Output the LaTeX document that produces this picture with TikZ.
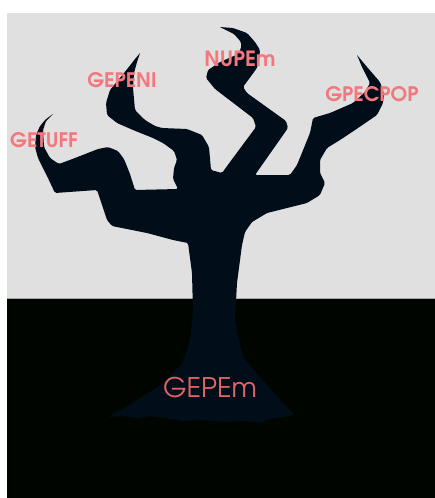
\documentclass[tikz,border=0pt]{standalone}
\usepackage{fontspec}
\newfontfamily\advfont{texgyreadventor}[Extension=.otf, UprightFont=*-regular, BoldFont=*-bold]
\definecolor{sky}{HTML}{E0E0E0}
\definecolor{ground}{HTML}{000500}
\definecolor{bark}{HTML}{010E1A}
\definecolor{labelpink}{HTML}{F2787D}
\definecolor{rootpink}{HTML}{E26565}
\tikzset{
  branchlabel/.style={text=labelpink, font=\advfont\bfseries\fontsize{20}{20}\selectfont, inner sep=0pt, anchor=center},
  rootlabel/.style={text=rootpink, font=\advfont\fontsize{27}{27}\selectfont, inner sep=0pt, anchor=center}
}
\begin{document}
\begin{tikzpicture}[x=1pt, y=-1pt]
  % page and backdrop
  \fill[white] (0,0) rectangle (435,498);
  \useasboundingbox (0,0) rectangle (435,498);
  \fill[sky] (7,13) rectangle (435,298);
  \fill[ground] (7,298) rectangle (435,498);
  \draw[gray!70, line width=0.6pt] (7,298.3) -- (435,298.3);

  % tree silhouette
  \fill[bark, rounded corners=1.5pt]
    (53,114) -- (46,121) -- (43,130) -- (44,147) -- (50,158) -- (59,164)
    -- (75,158) -- (98,149) -- (108,147) -- (118,151) -- (124,159)
    -- (130,174) -- (135,190) -- (178,189)
    -- (173,179) -- (174,168) -- (177,160) -- (174,151)
    -- (163,143) -- (153,138) -- (133,130) -- (117,123) -- (107,115)
    -- (106,103) -- (110,90) -- (119,79) -- (128,68) -- (135,59)
    [sharp corners] -- (140,53) [rounded corners=1.5pt]
    -- (137,62) -- (134,73) -- (133,88) -- (135,110) -- (145,120)
    -- (155,126) -- (162,128) -- (187,129) -- (202,135) -- (209,147)
    -- (211,170) -- (222,173)
    -- (230,162) -- (256,127) -- (253,118) -- (215,89) -- (206,78)
    -- (208,70) -- (220,62) -- (236,55) -- (241,49) -- (241,42)
    -- (234,34) [sharp corners] -- (220,27) [rounded corners=1.5pt]
    -- (233,28) -- (247,33) -- (255,42) -- (260,50) -- (259,60)
    -- (257,68) -- (243,87) -- (247,93) -- (286,121) -- (288,128)
    -- (255,175) -- (290,175) -- (297,165) -- (310,133) -- (313,118)
    -- (330,113) -- (353,103) -- (365,92) -- (370,83) -- (362,67)
    [sharp corners] -- (357,55) [rounded corners=1.5pt]
    -- (367,67) -- (380,82) -- (384,94) -- (383,103)
    -- (377,115) -- (358,128) -- (340,140) -- (327,148) -- (320,160)
    -- (320,173) -- (325,183) -- (320,195) -- (307,203) -- (287,208)
    -- (267,213) -- (252,222) -- (245,232) -- (242,245) -- (237,283)
    -- (235,320) -- (237,332) -- (240,345) -- (243,357) -- (260,377)
    -- (280,400) -- (295,415)
    -- (281,417) -- (268,419) -- (262,423) -- (246,421) -- (225,422)
    -- (200,420) -- (183,421) -- (165,418) -- (150,416) -- (137,418)
    -- (122,416) -- (108,417)
    -- (133,403) -- (163,383) -- (183,363) -- (190,340) -- (193,313)
    -- (192,273) -- (188,243) -- (173,240) -- (147,233) -- (112,226)
    -- (107,220) -- (97,190) -- (55,193) -- (47,176) -- (38,158)
    -- (35,147) -- (36,135) -- (40,126) -- (46,119) [sharp corners] -- cycle;

  % labels
  \node[branchlabel] (getuff) at (44,140) {GETUFF};
  \node[branchlabel] (gepeni) at (122,80) {GEPENI};
  \node[branchlabel, font=\advfont\bfseries\fontsize{21}{21}\selectfont] (nupem) at (240,58.5) {NUPEm};
  \node[branchlabel] (gpecpop) at (372,94) {GPECPOP};
  \node[rootlabel] (gepem) at (210,388) {GEPEm};
\end{tikzpicture}
\end{document}
